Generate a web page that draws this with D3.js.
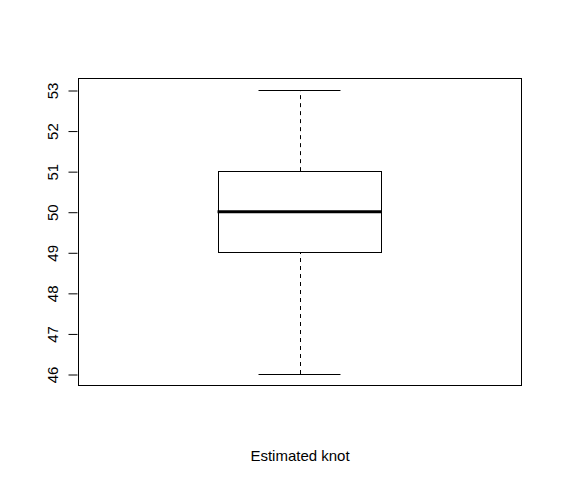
<!DOCTYPE html>
<html>
<head>
<meta charset="utf-8">
<script src="https://cdn.jsdelivr.net/npm/d3@7"></script>
<style>
body { margin: 0; background: #fff; }
text { font-family: "Liberation Sans", Arial, sans-serif; font-size: 15px; fill: #000; }
</style>
</head>
<body>
<div class="chart"></div>
<script>
const statNames = ["min", "q1", "median", "q3", "max"];
const statValues = [46, 49, 50, 51, 53];
const yTicks = [46, 47, 48, 49, 50, 51, 52, 53];
const xLabel = "Estimated knot";

const width = 562, height = 484;
const frame = {left: 78, right: 521, top: 78, bottom: 385};

const stats = {};
statNames.forEach((n, i) => stats[n] = statValues[i]);

const svg = d3.select("div.chart").append("svg")
	.attr("width", width)
	.attr("height", height);

const y = d3.scaleLinear().domain([46, 53]).range([374, 90]);
const x = d3.scaleLinear().domain([0.5, 1.5]).range([frame.left, frame.right]);
const boxHalf = 0.185, capHalf = 0.0925;

// frame
svg.append("rect")
	.attr("x", frame.left + 0.5).attr("y", frame.top + 0.5)
	.attr("width", frame.right - frame.left).attr("height", frame.bottom - frame.top)
	.attr("fill", "none").attr("stroke", "#000");

// y axis
const axis = svg.append("g")
	.attr("transform", "translate(" + (frame.left - 9.5) + ",0)")
	.call(d3.axisLeft(y).tickValues(yTicks).tickSize(0).tickPadding(0).tickFormat(d3.format("d")));
axis.select(".domain").remove();
axis.selectAll(".tick line").attr("x1", 0).attr("x2", 9).attr("stroke", "#000")
	.attr("transform", "translate(0,0.5)");
axis.selectAll(".tick text")
	.attr("x", null).attr("dy", null)
	.attr("text-anchor", "middle")
	.attr("font-size", 15)
	.attr("font-family", "Liberation Sans, Arial, sans-serif")
	.attr("transform", "translate(-10.5,0.5) rotate(-90)");

const g = svg.append("g");
const cx = Math.round(x(1)) + 0.5;

// whiskers
g.selectAll("line.whisker")
	.data([[stats.min, stats.q1], [stats.q3, stats.max]])
	.join("line")
	.attr("x1", cx).attr("x2", cx)
	.attr("y1", d => y(d[0])).attr("y2", d => y(d[1]))
	.attr("stroke", "#000").attr("stroke-dasharray", "4,4");

// caps
g.selectAll("line.cap")
	.data([stats.min, stats.max])
	.join("line")
	.attr("x1", x(1 - capHalf)).attr("x2", x(1 + capHalf))
	.attr("y1", d => Math.round(y(d)) + 0.5).attr("y2", d => Math.round(y(d)) + 0.5)
	.attr("stroke", "#000");

// box
g.append("rect")
	.attr("x", Math.round(x(1 - boxHalf)) + 0.5)
	.attr("y", Math.round(y(stats.q3)) + 0.5)
	.attr("width", Math.round(x(1 + boxHalf)) - Math.round(x(1 - boxHalf)))
	.attr("height", Math.round(y(stats.q1)) - Math.round(y(stats.q3)))
	.attr("fill", "#fff").attr("stroke", "#000");

// median
g.append("line")
	.attr("x1", x(1 - boxHalf)).attr("x2", x(1 + boxHalf))
	.attr("y1", y(stats.median)).attr("y2", y(stats.median))
	.attr("stroke", "#000").attr("stroke-width", 3);

// x label
svg.append("text")
	.attr("x", (frame.left + frame.right) / 2 + 0.5)
	.attr("y", 461)
	.attr("text-anchor", "middle")
	.text(xLabel);
</script>
</body>
</html>
